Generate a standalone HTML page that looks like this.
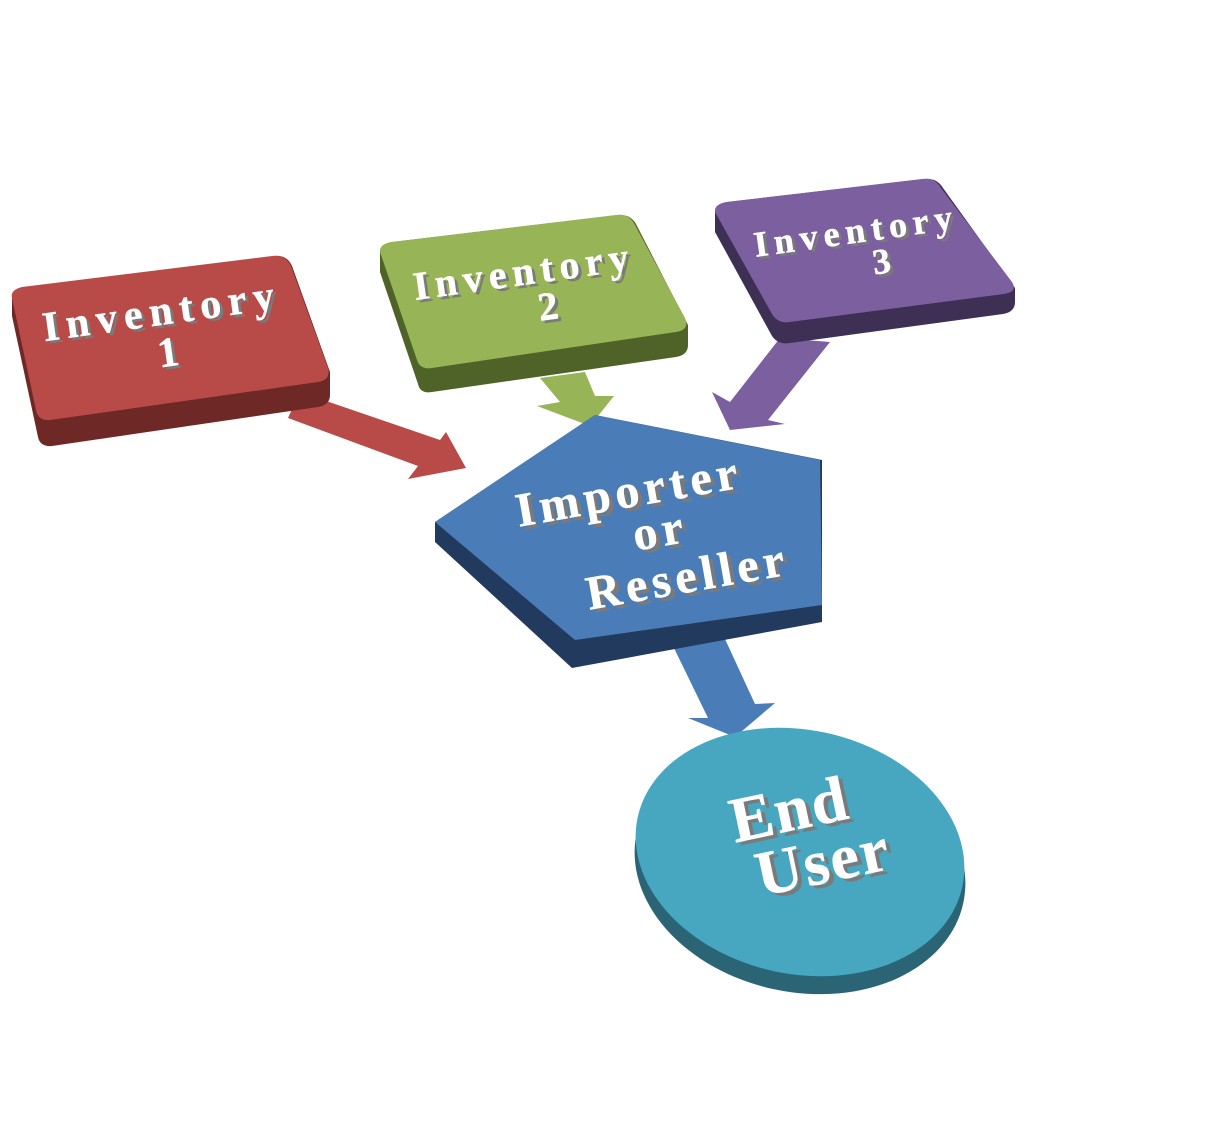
<!DOCTYPE html>
<html><head><style>
html,body{margin:0;padding:0;background:#fff;}
svg{display:block}
.t{font-family:"Liberation Serif",serif;font-weight:bold;fill:#fff;stroke:#fff;stroke-width:0.5;}
.s{font-family:"Liberation Serif",serif;font-weight:bold;fill:#7a7a7a;}
</style></head><body>
<svg width="1218" height="1127" viewBox="0 0 1218 1127" xmlns="http://www.w3.org/2000/svg">
<polygon points="288,418 300,392 440,440 446,432 466,468 408,479 418,466" fill="#B84B47"/>
<polygon points="540,378 585,372 595,396 614,396 590,426 537,406 560,402" fill="#97B456"/>
<polygon points="780,338 830,342 768,420 785,424 730,430 712,392 730,402" fill="#7B5F9E"/>
<polygon points="673,646 725,639 755,704 775,703 735,737 688,718 708,718" fill="#4A7DB7"/>
<path d="M12,298 Q12,290 24,288 L275,256 Q287,255 292,266 L330,372 L330,395 Q330,405 318,407 L52,446 Q40,447 38,437 L12,316 Z" fill="#6E2826"/>
<path d="M12,298 Q10,290 22,287 L272,256 Q285,254 291,266 L328,368 Q331,380 318,382 L50,420 Q38,421 36,410 Z" fill="#B84B47"/>
<path d="M380,252 Q380,244 392,242 L618,215 Q630,214 636,224 L688,325 L688,345 Q688,355 676,357 L432,392 Q420,394 418,384 L380,272 Z" fill="#4F6328"/>
<path d="M380,252 Q379,244 392,242 L616,215 Q629,213 635,225 L685,318 Q690,330 676,332 L432,368 Q420,370 417,360 Z" fill="#97B456"/>
<path d="M715,212 Q715,204 727,202 L925,179 Q937,178 943,188 L1015,288 L1015,302 Q1015,312 1003,314 L790,343 Q778,345 772,336 L715,232 Z" fill="#3E2F55"/>
<path d="M715,212 Q714,204 727,202 L922,179 Q935,177 941,188 L1012,282 Q1018,292 1004,294 L790,322 Q778,324 772,314 Z" fill="#7B5F9E"/>
<polygon points="435,522 595,415 822,460 822,622 572,668 435,542" fill="#223A5E"/>
<polygon points="435,522 595,415 820,460 822,605 575,640" fill="#4A7DB7"/>
<ellipse cx="800" cy="868" rx="167" ry="124" transform="rotate(12 800 868)" fill="#2A6475"/>
<ellipse cx="800" cy="852" rx="166" ry="122" transform="rotate(12 800 852)" fill="#47A7C1"/>
<g transform="rotate(-8 160 320)" font-size="42" text-anchor="middle" letter-spacing="7">
<text class="s" x="166" y="328">Inventory</text><text class="t" x="163" y="325">Inventory</text>
<text class="s" x="170" y="370">1</text><text class="t" x="167" y="367">1</text>
</g>
<g transform="rotate(-8 522 280)" font-size="40" text-anchor="middle" letter-spacing="6">
<text class="s" x="528" y="288">Inventory</text><text class="t" x="525" y="285">Inventory</text>
<text class="s" x="550" y="326">2</text><text class="t" x="547" y="323">2</text>
</g>
<g transform="rotate(-8 854 238)" font-size="36" text-anchor="middle" letter-spacing="6">
<text class="s" x="860" y="246">Inventory</text><text class="t" x="857" y="243">Inventory</text>
<text class="s" x="884" y="280">3</text><text class="t" x="881" y="277">3</text>
</g>
<g transform="rotate(-10 650 530)" font-size="48" text-anchor="middle" letter-spacing="5">
<text class="s" x="640" y="508">Importer</text><text class="t" x="636" y="504">Importer</text>
<text class="s" x="664" y="552">or</text><text class="t" x="660" y="548">or</text>
<text class="s" x="683" y="602">Reseller</text><text class="t" x="679" y="598">Reseller</text>
</g>
<g transform="rotate(-12 805 840)" font-size="64" text-anchor="middle" letter-spacing="2">
<text class="s" x="800" y="832">End</text><text class="t" x="796" y="828">End</text>
<text class="s" x="822" y="890">User</text><text class="t" x="818" y="886">User</text>
</g>
</svg>
</body></html>
